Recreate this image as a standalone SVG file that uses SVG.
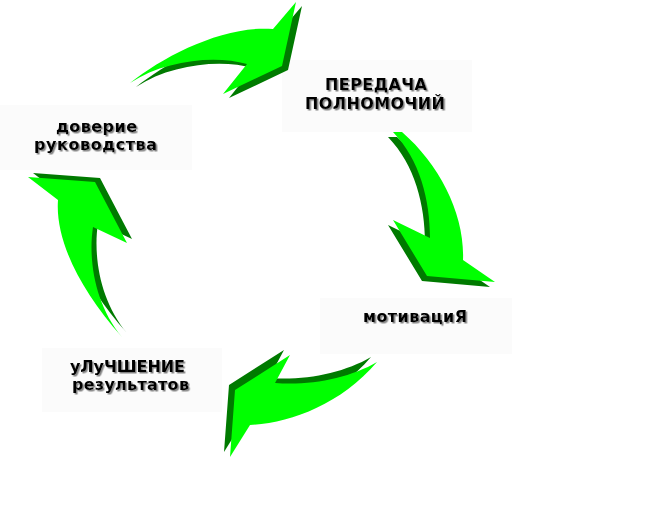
<svg xmlns="http://www.w3.org/2000/svg" width="654" height="527" viewBox="0 0 654 527">
<style>
.bg{fill:#fbfbfb}
.lbl{font-family:"DejaVu Sans","Verdana",sans-serif;font-weight:bold;font-size:16px;fill:#000;filter:url(#ts)}
.dk{fill:#007a00}
.lt{fill:#00ff00}
</style>
<defs>
<filter id="ts" x="-5%" y="-20%" width="115%" height="150%">
<feDropShadow dx="1.5" dy="1.5" stdDeviation="0.4" flood-color="#777" flood-opacity="0.9"/>
</filter>
<path id="a1" d="M130,83 C165,55 225,25 273,29 L296,2 L282,66 L223,94 L247,64 C215,55 165,60 130,83 Z"/>
<path id="a2" d="M393,132 L402,132 C440,165 465,215 463,260 L495,282 L427,276 L393,220 L430,238 C430,200 420,160 393,132 Z"/>
<path id="a3" d="M377,362 C350,378 310,386 275,383 L290,355 L235,390 L230,457 L250,425 C290,423 340,405 377,362 Z"/>
<path id="a4" d="M122,337 C80,290 55,240 58,200 L28,177 L95,182 L127,243 L93,227 C88,260 95,305 122,337 Z"/>
</defs>
<rect width="654" height="527" fill="#fff"/>
<g id="n1">
<rect class="bg" x="282" y="60" width="190" height="72"/>
<text class="lbl" x="325" y="90" textLength="102">ПЕРЕДАЧА</text>
<text class="lbl" x="305" y="109" textLength="140">ПОЛНОМОЧИЙ</text>
</g>
<g id="n2">
<rect class="bg" x="320" y="298" width="192" height="56"/>
<text class="lbl" x="363" y="322" textLength="104">мотивациЯ</text>
</g>
<g id="n3">
<rect class="bg" x="42" y="348" width="180" height="64"/>
<text class="lbl" x="70" y="372" textLength="115">уЛуЧШЕНИЕ</text>
<text class="lbl" x="72" y="390" textLength="117">результатов</text>
</g>
<g id="n4">
<rect class="bg" x="0" y="105" width="192" height="65"/>
<text class="lbl" x="56" y="132" textLength="81">доверие</text>
<text class="lbl" x="34" y="150" textLength="123">руководства</text>
</g>
<g id="connectors">
<use href="#a1" class="dk" transform="translate(6,4)"/>
<use href="#a1" class="lt"/>
<use href="#a2" class="dk" transform="translate(-5,5)"/>
<use href="#a2" class="lt"/>
<use href="#a3" class="dk" transform="translate(-6,-5)"/>
<use href="#a3" class="lt"/>
<use href="#a4" class="dk" transform="translate(5,-4)"/>
<use href="#a4" class="lt"/>
</g>
</svg>
